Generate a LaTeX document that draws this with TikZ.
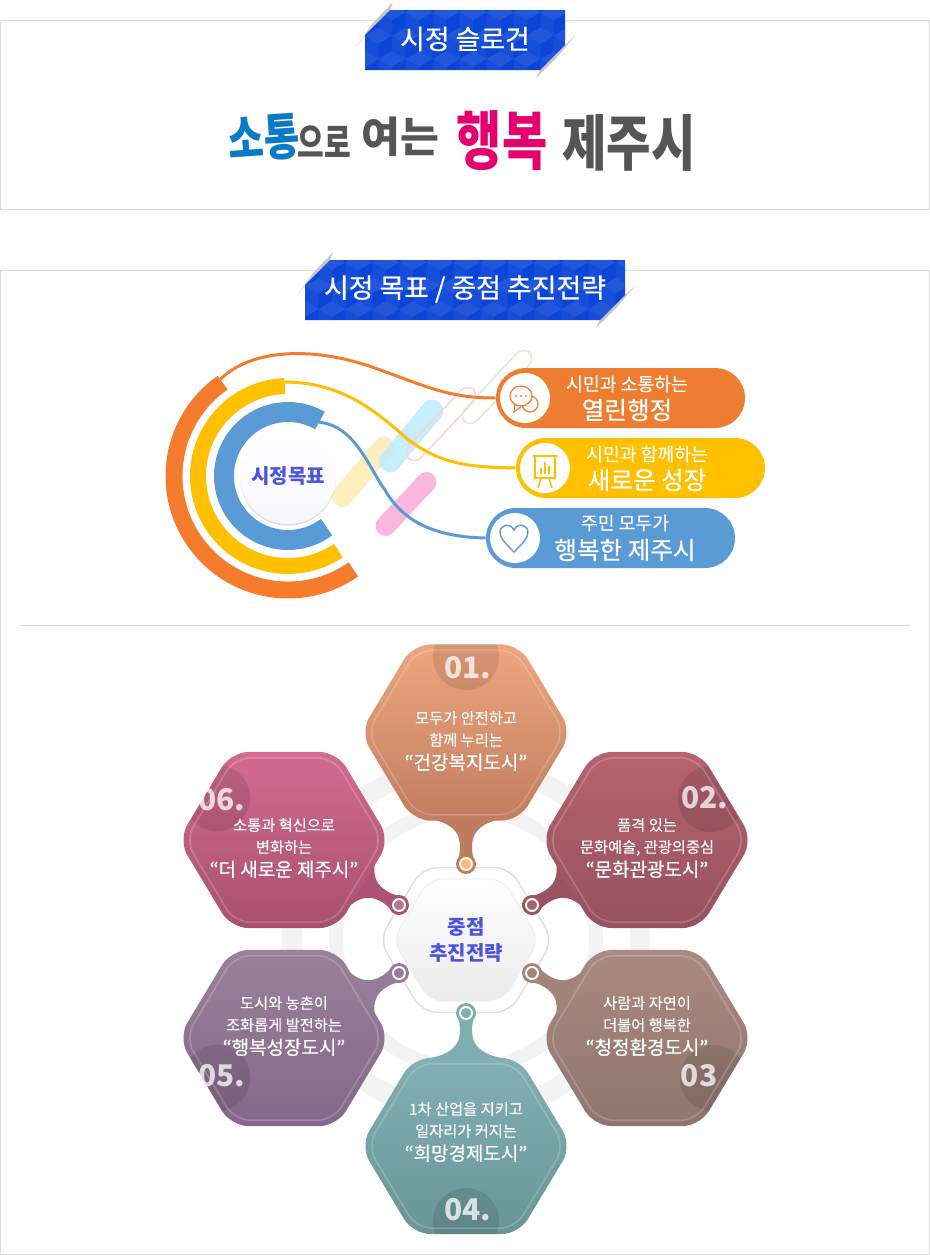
\documentclass[tikz,border=0pt]{standalone}
\usepackage{xcolor}
\usepackage{fontspec}
\setmainfont{Noto Sans CJK KR}
\newfontfamily\krsemi[FakeBold=0.6]{Noto Sans CJK KR}
\newfontfamily\krsoft[FakeBold=0.2]{Noto Sans CJK KR}
\usetikzlibrary{shapes.geometric,shadows,calc}
\definecolor{framegray}{HTML}{DDDDDD}
\definecolor{foldgray}{HTML}{C8C8C8}
\definecolor{ringgray}{HTML}{F3F3F3}
\definecolor{titleblue}{HTML}{0A45D8}
\definecolor{goalorange}{HTML}{F47C2C}
\definecolor{goalyellow}{HTML}{FFC000}
\definecolor{goalblue}{HTML}{5B9BD5}
\definecolor{pillorange}{HTML}{EE7D31}
\definecolor{inkblue}{HTML}{4A55DC}
\definecolor{brushblue}{HTML}{0A7AC4}
\definecolor{brushgray}{HTML}{555555}
\definecolor{brushpink}{HTML}{E4006F}
\definecolor{stemone}{HTML}{BE7D5E}
\definecolor{stemtwo}{HTML}{9A5360}
\definecolor{stemthree}{HTML}{A28479}
\definecolor{stemfour}{HTML}{7FAEB1}
\definecolor{stemfive}{HTML}{957C98}
\definecolor{stemsix}{HTML}{AD5274}
\definecolor{topone}{HTML}{EFA67F}
\definecolor{toptwo}{HTML}{B5636F}
\definecolor{topthree}{HTML}{A98A80}
\definecolor{topfour}{HTML}{82B0B4}
\definecolor{topfive}{HTML}{9A8199}
\definecolor{topsix}{HTML}{D26C90}
\definecolor{lowone}{HTML}{C07E60}
\definecolor{lowtwo}{HTML}{96525E}
\definecolor{lowthree}{HTML}{8F7570}
\definecolor{lowfour}{HTML}{699596}
\definecolor{lowfive}{HTML}{84688A}
\definecolor{lowsix}{HTML}{A8506E}
\newcommand{\hexclip}[1]{\clip [rounded corners=10pt] (#1.corner 1) -- (#1.corner 2) -- (#1.corner 3) -- (#1.corner 4) -- (#1.corner 5) -- (#1.corner 6) -- cycle;}
\tikzset{
  frame/.style={draw=framegray, line width=0.6pt},
  titletext/.style={text=white, font=\krsemi\fontsize{15.3}{18}\selectfont},
  goalarc/.style={line width=#1*0.567pt},
  linkline/.style={line width=1.7pt},
  softstick/.style={rectangle, rounded corners=5.6pt, minimum width=1.5cm, minimum height=0.4cm, inner sep=0pt},
  pill/.style={rectangle, rounded corners=17pt, minimum width=4.98cm, minimum height=1.2cm, inner sep=0pt},
  pillhole/.style={circle, fill=white, minimum size=1cm, inner sep=0pt},
  pilltext/.style={text=white, align=center, inner sep=0pt, font=\krsoft\fontsize{10.4}{14}\selectfont},
  pillbig/.style={font=\krsemi\fontsize{14}{16}\selectfont},
  hexcell/.style={regular polygon, regular polygon sides=6, minimum size=4.07cm, inner sep=0pt, outer sep=0pt, rounded corners=10pt, xscale=1.04, transform shape},
  hexline/.style={regular polygon, regular polygon sides=6, minimum size=3.8cm, inner sep=0pt, outer sep=0pt, rounded corners=9pt, draw=white, draw opacity=0.2, line width=0.9pt, xscale=1.04, transform shape},
  numdisc/.style={fill=black, fill opacity=0.1},
  numtext/.style={text=white, text opacity=0.75, inner sep=0pt, font=\fontsize{17}{20}\selectfont\bfseries},
  hextext/.style={text=white, align=center, inner sep=0pt, font=\krsoft\fontsize{8.7}{12.5}\selectfont},
  pinball/.style={circle, minimum size=0.4cm, inner sep=0pt},
  pinring/.style={circle, draw=white, line width=1.1pt, minimum size=0.24cm, inner sep=0pt},
  midhex/.style={regular polygon, regular polygon sides=6, inner sep=0pt, outer sep=0pt, xscale=1.04, transform shape},
  hexstem/.pic={
    \path [fill] (-8,4) .. controls (-6,12) and (-5,16) .. (-7,25) .. controls (-9,34) and (-18,42) .. (-36,45) -- (36,45) .. controls (18,42) and (9,34) .. (7,25) .. controls (5,16) and (6,12) .. (8,4) -- cycle;
  },
  cubetile/.pic={
    \fill [white, opacity=0.05] (0,0) -- (-13.5,7.8) -- (-13.5,-7.8) -- (0,-15.6) -- cycle;
    \fill [white, opacity=0.1] (0,0) -- (-13.5,7.8) -- (0,15.6) -- (13.5,7.8) -- cycle;
  }
}
\begin{document}
\begin{tikzpicture}[x=0.02cm,y=0.02cm]
\useasboundingbox (0,0) rectangle (930,-1255);
\fill [white] (0,0) rectangle (930,-1255);
% panels
\draw [frame] (0.5,-20.5) rectangle (929.5,-209.5);
\draw [frame] (0.5,-270.5) rectangle (929.5,-1254.5);
\draw [frame] (20,-625.5) -- (910,-625.5);
% first title
\fill [foldgray] (393,-2) -- (373,-23) -- (356,-47) -- (365,-35) -- (390,-10) -- cycle;
\fill [foldgray] (575,-36) -- (557,-57) -- (536,-78) -- (540,-70) -- (565,-45) -- cycle;
\begin{scope}
\clip (365,-35) -- (390,-10) -- (565,-10) -- (565,-45) -- (540,-70) -- (365,-70) -- cycle;
\fill [titleblue] (360,-5) rectangle (570,-75);
\foreach \i in {0,...,8} {
  \pic at (365+\i*27,-20) {cubetile};
  \pic at (378.5+\i*27,-43.4) {cubetile};
  \pic at (365+\i*27,-66.8) {cubetile};
}
\end{scope}
\node [titletext] (slogantitle) at (465,-39) {시정 슬로건};
% slogan
\node [text=brushblue, font=\fontsize{22}{26}\selectfont\bfseries, rotate=4] (wordone) at (264,-138) {\scalebox{1}[1.3]{소통}};
\node [text=brushgray, font=\fontsize{15}{20}\selectfont\bfseries] (wordtwo) at (324,-142) {\scalebox{1.1}[1.5]{으로}};
\node [text=brushgray, font=\fontsize{24}{28}\selectfont\bfseries] (wordthree) at (400,-137) {여는};
\node [text=brushpink, font=\fontsize{28}{30}\selectfont\bfseries] (wordfour) at (502,-141) {\scalebox{1}[1.3]{행복}};
\node [text=brushgray, font=\fontsize{27.5}{30}\selectfont\bfseries] (wordfive) at (629,-143) {\scalebox{1}[1.25]{제주시}};
% second title
\fill [foldgray] (333,-252) -- (313,-273) -- (296,-297) -- (305,-285) -- (330,-260) -- cycle;
\fill [foldgray] (635,-286) -- (617,-307) -- (596,-328) -- (600,-320) -- (625,-295) -- cycle;
\begin{scope}
\clip (305,-285) -- (330,-260) -- (625,-260) -- (625,-295) -- (600,-320) -- (305,-320) -- cycle;
\fill [titleblue] (300,-255) rectangle (630,-325);
\foreach \i in {0,...,12} {
  \pic at (305+\i*27,-270) {cubetile};
  \pic at (318.5+\i*27,-293.4) {cubetile};
  \pic at (305+\i*27,-316.8) {cubetile};
}
\end{scope}
\node [titletext] (goaltitle) at (465,-289) {시정 목표 / 중점 추진전략};
% sticks behind the links
\node [softstick, fill=goalyellow!30, fill opacity=0.85, rotate=50, minimum width=1.7cm, minimum height=0.42cm] (stickone) at (363,-472) {};
\node [softstick, fill=cyan!25, fill opacity=0.85, rotate=50, minimum width=1.75cm, minimum height=0.44cm] (sticktwo) at (411,-436) {};
\node [softstick, fill=magenta!28, rotate=47, minimum width=1.6cm] (stickthree) at (406,-504) {};
\node [softstick, draw=red!18, line width=0.8pt, rotate=47, minimum width=1.9cm, minimum height=0.34cm] (stickfour) at (441,-424) {};
\node [softstick, draw=green!50!olive!22, line width=0.8pt, rotate=47, minimum width=1.9cm, minimum height=0.34cm] (stickfive) at (497,-387) {};
% goal rings
\node [circle, minimum size=1.92cm, inner sep=0pt, top color=white, bottom color=black!9!blue!3!white, drop shadow={opacity=0.25, shadow xshift=0pt, shadow yshift=-1pt}, text=inkblue, font=\fontsize{11.4}{14}\selectfont\bfseries] (goal) at (288,-476) {시정목표};
\draw [goalarc=20, goalblue] ($(goal)+(60:64)$) arc (60:307:64);
\draw [goalarc=16, goalyellow] ($(goal)+(92:90)$) arc (92:304:90);
\draw [goalarc=17, goalorange] ($(goal)+(125:114)$) arc (125:305:114);
\coordinate (bluestart) at ($(goal)+(60:62)$);
\coordinate (yellowstart) at ($(goal)+(92:94)$);
\coordinate (orangestart) at ($(goal)+(125:118)$);
% pills
\node [pill, fill=pillorange] (pillone) at (620.5,-398) {};
\node [pill, fill=goalyellow] (pilltwo) at (640.5,-468) {};
\node [pill, fill=goalblue] (pillthree) at (610.5,-538) {};
\draw [linkline, goalorange] (orangestart) .. controls (250,-350) and (310,-345) .. (375,-368) .. controls (430,-388) and (450,-398) .. (pillone.west);
\draw [linkline, goalyellow] (yellowstart) .. controls (340,-382) and (375,-410) .. (405,-437) .. controls (440,-465) and (470,-467) .. (pilltwo.west);
\draw [linkline, goalblue] (bluestart) .. controls (355,-425) and (370,-470) .. (385,-490) .. controls (405,-525) and (440,-537) .. (pillthree.west);
\node [pillhole] (holeone) at (525,-398) {};
\node [pillhole] (holetwo) at (545,-468) {};
\node [pillhole] (holethree) at (515,-538) {};
% icons
\draw [pillorange, line width=0.7pt, fill=white] (530,-404) ellipse (8 and 8);
\draw [pillorange, line width=0.7pt, fill=white] (521,-396) ellipse (11 and 10);
\draw [pillorange, line width=0.7pt] (515,-404) -- (514,-412) -- (522,-406);
\fill [pillorange] (516,-396) circle (1.2) (521,-396) circle (1.2) (526,-396) circle (1.2);
\draw [goalyellow, line width=0.9pt] (533,-456) -- (557,-456) (535,-456) -- (535,-478) -- (555,-478) -- (555,-456) (541,-478) -- (538,-488) (549,-478) -- (552,-488) (541,-474) -- (541,-468) (545,-474) -- (545,-462) (549,-474) -- (549,-466);
\draw [goalblue, line width=0.8pt] (514,-552) .. controls (505,-543) and (500,-538) .. (500,-532) .. controls (500,-525) and (510,-522) .. (514,-530) .. controls (518,-522) and (528,-525) .. (528,-532) .. controls (528,-538) and (523,-543) .. (514,-552) -- cycle;
\node [pilltext] (textone) at (627,-384) {시민과 소통하는};
\node [pilltext, pillbig] (bigone) at (627,-410) {열린행정};
\node [pilltext] (texttwo) at (647,-454) {시민과 함께하는};
\node [pilltext, pillbig] (bigtwo) at (647,-480) {새로운 성장};
\node [pilltext] (textthree) at (625,-523) {주민 모두가};
\node [pilltext, pillbig] (bigthree) at (625,-550) {행복한 제주시};
% rings behind the hexagons
\coordinate (ringmid) at (466,-939);
\draw [ringgray, line width=11.3pt] (ringmid) circle (174);
\draw [ringgray, line width=8pt] (ringmid) circle (130);
% centre hexagon
\node [midhex, minimum size=3.35cm, fill=white, draw=black!13, line width=0.8pt, rounded corners=9pt] (midouter) at (466,-940) {};
\node [midhex, minimum size=2.82cm, top color=white, bottom color=blue!6!black!8!white, draw=black!6, line width=0.6pt, rounded corners=8pt] (midhex) at (466,-940) {};
\node [text=inkblue, align=center, inner sep=0pt, font=\fontsize{11.4}{14.5}\selectfont\bfseries] (midtext) at (466,-940) {중점\\추진전략};
% pins and stems
\node [pinball] (pone) at (466,-864) {};
\node [pinball] (ptwo) at (532,-905) {};
\node [pinball] (pthree) at (532,-973) {};
\node [pinball] (pfour) at (466,-1013) {};
\node [pinball] (pfive) at (399,-973) {};
\node [pinball] (psix) at (399,-905) {};
\pic [fill=stemone] at (pone) {hexstem};
\pic [rotate=-60, fill=stemtwo] at (ptwo) {hexstem};
\pic [rotate=-120, fill=stemthree] at (pthree) {hexstem};
\pic [rotate=180, fill=stemfour] at (pfour) {hexstem};
\pic [rotate=120, fill=stemfive] at (pfive) {hexstem};
\pic [rotate=60, fill=stemsix] at (psix) {hexstem};
\node [pinball, fill=stemone] at (pone) {};
\node [pinball, fill=stemtwo] at (ptwo) {};
\node [pinball, fill=stemthree] at (pthree) {};
\node [pinball, fill=stemfour] at (pfour) {};
\node [pinball, fill=stemfive] at (pfive) {};
\node [pinball, fill=stemsix] at (psix) {};
\node [pinring, fill=orange!55] at (pone) {};
\node [pinring, fill=stemtwo!90] at (ptwo) {};
\node [pinring, fill=stemthree] at (pthree) {};
\node [pinring, fill=stemfour] at (pfour) {};
\node [pinring, fill=stemfive] at (pfive) {};
\node [pinring, fill=stemsix!80] at (psix) {};
% hexagon 01
\node [hexcell, top color=topone, bottom color=lowone] (hone) at (466,-732.5) {};
\begin{scope} \hexclip{hone} \fill [numdisc] (466,-657) circle (33); \end{scope}
\node [hexline] at (hone) {};
\node [numtext] (none) at (468,-668) {01.};
\node [hextext] (tone) at (466,-741) {모두가 안전하고\\함께 누리는\\[1pt]{\krsemi\fontsize{10.8}{14}\selectfont “건강복지도시”}};
% hexagon 02
\node [hexcell, top color=toptwo, bottom color=lowtwo] (htwo) at (647,-840) {};
\begin{scope} \hexclip{htwo} \fill [numdisc] (711,-799) circle (33); \end{scope}
\node [hexline] at (htwo) {};
\node [numtext] (ntwo) at (705,-798) {02.};
\node [hextext] (ttwo) at (647,-848) {품격 있는\\문화예술, 관광의중심\\[1pt]{\krsemi\fontsize{10.8}{14}\selectfont “문화관광도시”}};
% hexagon 03
\node [hexcell, top color=topthree, bottom color=lowthree] (hthree) at (647,-1038) {};
\begin{scope} \hexclip{hthree} \fill [numdisc] (713,-1078) circle (33); \end{scope}
\node [hexline] at (hthree) {};
\node [numtext] (nthree) at (699,-1076) {03};
\node [hextext] (tthree) at (647,-1026) {사람과 자연이\\더불어 행복한\\[1pt]{\krsemi\fontsize{10.8}{14}\selectfont “청정환경도시”}};
% hexagon 04
\node [hexcell, top color=topfour, bottom color=lowfour] (hfour) at (466,-1146) {};
\begin{scope} \hexclip{hfour} \fill [numdisc] (466,-1221) circle (33); \end{scope}
\node [hexline] at (hfour) {};
\node [numtext] (nfour) at (468,-1210) {04.};
\node [hextext] (tfour) at (466,-1132) {1차 산업을 지키고\\일자리가 커지는\\[1pt]{\krsemi\fontsize{10.8}{14}\selectfont “희망경제도시”}};
% hexagon 05
\node [hexcell, top color=topfive, bottom color=lowfive] (hfive) at (284,-1038) {};
\begin{scope} \hexclip{hfive} \fill [numdisc] (217,-1078) circle (33); \end{scope}
\node [hexline] at (hfive) {};
\node [numtext] (nfive) at (222,-1076) {05.};
\node [hextext] (tfive) at (284,-1026) {도시와 농촌이\\조화롭게 발전하는\\[1pt]{\krsemi\fontsize{10.8}{14}\selectfont “행복성장도시”}};
% hexagon 06
\node [hexcell, top color=topsix, bottom color=lowsix] (hsix) at (284,-840) {};
\begin{scope} \hexclip{hsix} \fill [numdisc] (217,-798) circle (33); \end{scope}
\node [hexline] at (hsix) {};
\node [numtext] (nsix) at (222,-800) {06.};
\node [hextext] (tsix) at (284,-848) {소통과 혁신으로\\변화하는\\[1pt]{\krsemi\fontsize{10.8}{14}\selectfont “더 새로운 제주시”}};
\end{tikzpicture}
\end{document}
